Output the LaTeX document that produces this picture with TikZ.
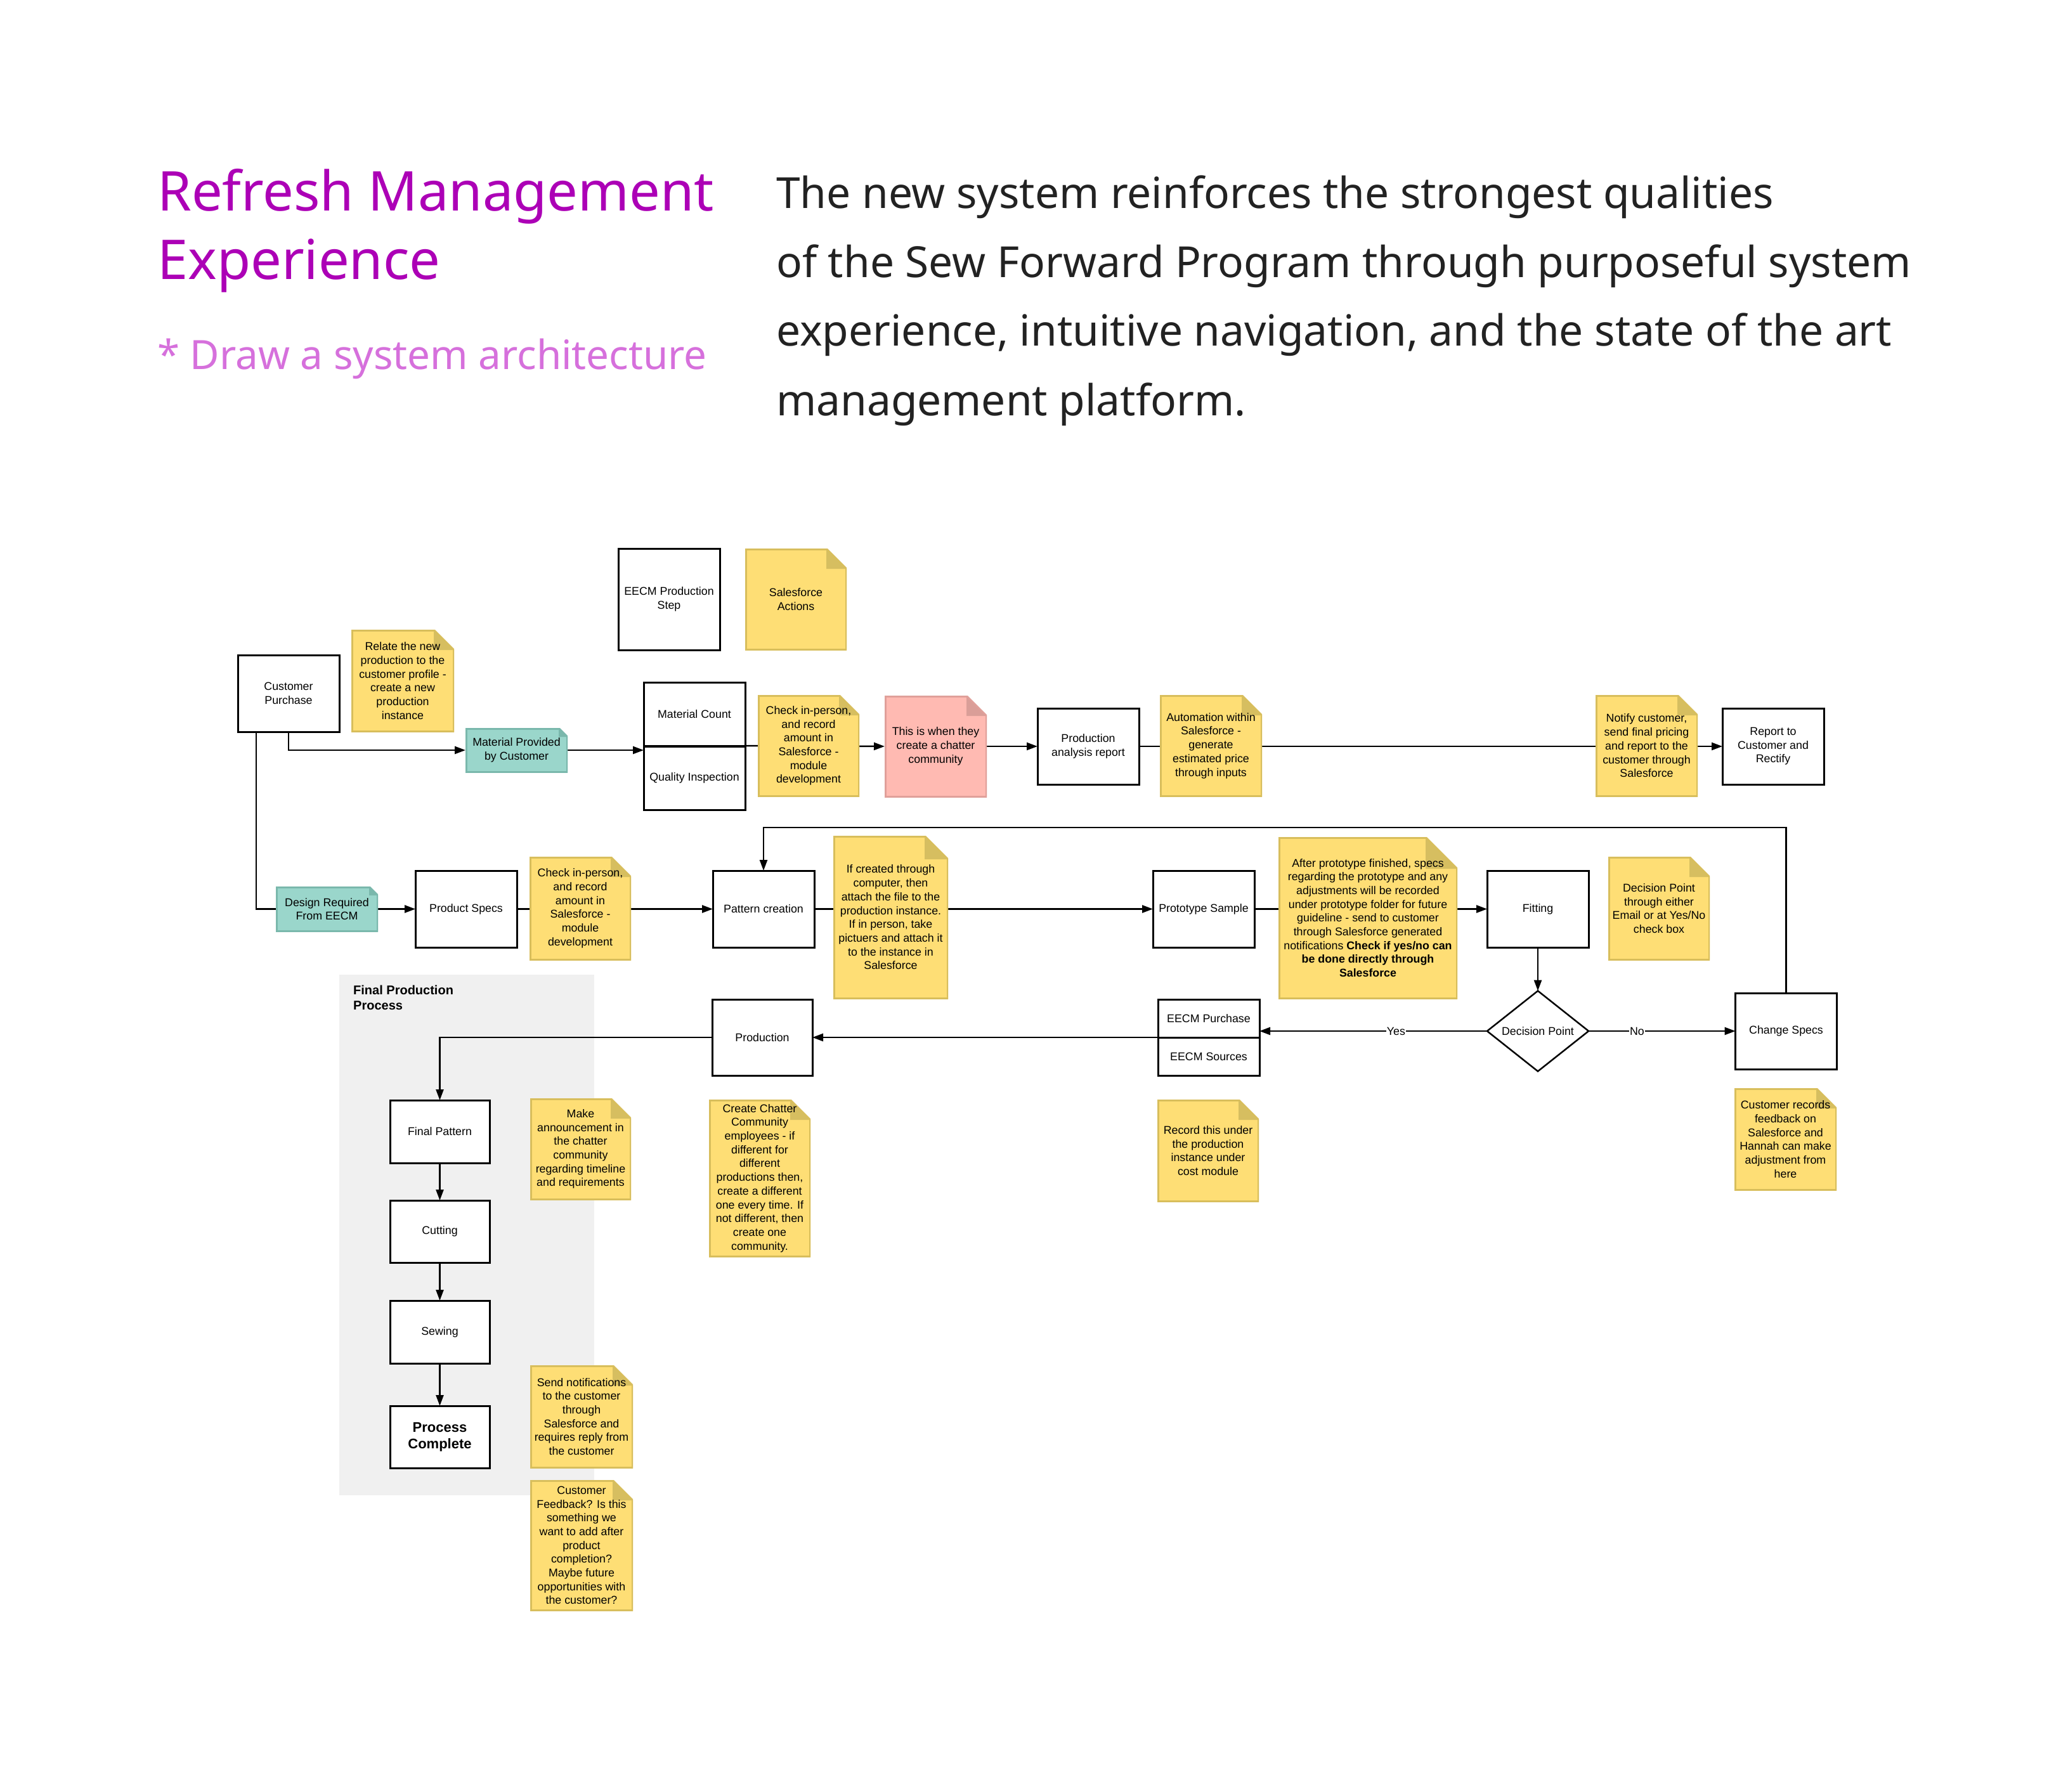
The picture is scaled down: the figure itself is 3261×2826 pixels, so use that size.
\documentclass[tikz,border=0pt]{standalone}
\usepackage{fontspec}
\setmainfont{Liberation Sans}
\newfontfamily\headfont{Noto Sans}
\usetikzlibrary{arrows.meta,shapes.geometric}
\pgfdeclarelayer{back}\pgfdeclarelayer{conn}\pgfsetlayers{back,conn,main}
\definecolor{yfill}{RGB}{254,222,117}
\definecolor{ybord}{RGB}{216,190,92}
\definecolor{yfold}{RGB}{214,190,96}
\definecolor{tfill}{RGB}{154,214,203}
\definecolor{tbord}{RGB}{122,184,172}
\definecolor{tfold}{RGB}{122,184,172}
\definecolor{pfill}{RGB}{255,186,178}
\definecolor{pbord}{RGB}{224,160,154}
\definecolor{pfold}{RGB}{218,158,152}
\definecolor{titlec}{RGB}{172,0,182}
\definecolor{subc}{RGB}{214,112,220}
\definecolor{parac}{RGB}{34,34,34}
\definecolor{grayarea}{RGB}{240,240,240}
\newcommand\dgmfont{\fontsize{17.8}{21.7}\selectfont}
\begin{document}
\begin{tikzpicture}[x=1pt,y=-1pt,
  pbox/.style n args={2}{draw=black, line width=3pt, fill=white, minimum width=#1pt, minimum height=#2pt, inner sep=2pt, outer sep=0pt, align=center, font=\dgmfont},
  sticky/.style n args={4}{minimum width=#1pt, minimum height=#2pt, inner sep=2pt, outer sep=0pt, align=center, font=\dgmfont,
    path picture={
      \fill[#4fill] (path picture bounding box.south west) -- (path picture bounding box.north west) -- ([xshift=-#3pt]path picture bounding box.north east) -- ([yshift=-#3pt]path picture bounding box.north east) -- (path picture bounding box.south east) -- cycle;
      \fill[#4fold] ([xshift=-#3pt]path picture bounding box.north east) -- ([xshift=-#3pt,yshift=-#3pt]path picture bounding box.north east) -- ([yshift=-#3pt]path picture bounding box.north east) -- cycle;
      \draw[#4bord, line width=5pt] ([xshift=-#3pt]path picture bounding box.north east) -- (path picture bounding box.north west) -- (path picture bounding box.south west) -- (path picture bounding box.south east) -- ([yshift=-#3pt]path picture bounding box.north east);
      \draw[#4bord, line width=2.5pt] ([xshift=-#3pt]path picture bounding box.north east) -- ([yshift=-#3pt]path picture bounding box.north east);
    }},
  conn/.style={draw=black, line width=2.5pt, -{Triangle[length=17pt,width=12pt]}},
  cline/.style={draw=black, line width=2.5pt},
  lbl/.style={fill=white, inner sep=1pt, font=\dgmfont},
  hd/.style={anchor=base west, inner sep=0pt}
]
% canvas
\begin{pgfonlayer}{back}
\fill[white] (0,0) rectangle (3261,2826);
\fill[grayarea] (535,1537) rectangle (937,2358);
\end{pgfonlayer}
\useasboundingbox (0,0) rectangle (3261,2826);

% header
\node[hd, font=\headfont\fontsize{86.5}{108}\selectfont, text=titlec] (t1) at (248,332) {Refresh Management};
\node[hd, font=\headfont\fontsize{86.5}{108}\selectfont, text=titlec] (t2) at (248,440) {Experience};
\node[hd, font=\headfont\fontsize{63.7}{80}\selectfont, text=subc] (t3) at (248,582) {* Draw a system architecture};
\node[hd, font=\headfont\fontsize{67.6}{108}\selectfont, text=parac] (p1) at (1224,328) {The new system reinforces the strongest qualities};
\node[hd, font=\headfont\fontsize{67.6}{108}\selectfont, text=parac] (p2) at (1224,437) {of the Sew Forward Program through purposeful system};
\node[hd, font=\headfont\fontsize{67.6}{108}\selectfont, text=parac] (p3) at (1224,545) {experience, intuitive navigation, and the state of the art};
\node[hd, font=\headfont\fontsize{67.6}{108}\selectfont, text=parac] (p4) at (1224,655) {management platform.};

% final production header
\node[hd, font=\bfseries\fontsize{20}{24}\selectfont] (fph1) at (557,1568) {Final Production};
\node[hd, font=\bfseries\fontsize{20}{24}\selectfont] (fph2) at (557,1592) {Process};

% boxes
\node[pbox={160}{160}] (eecmstep) at (1055,945) {EECM Production\\Step};
\node[pbox={160}{121}] (cp) at (455,1093.5) {Customer\\Purchase};
\node[pbox={160}{100}] (mc) at (1095,1126) {Material Count};
\node[pbox={160}{100}] (qi) at (1095,1227) {Quality Inspection};
\node[pbox={160}{120}] (pa) at (1716,1177) {Production\\analysis report};
\node[pbox={160}{120}] (rep) at (2796,1177) {Report to\\Customer and\\Rectify};
\node[pbox={160}{121}] (ps) at (735,1433.5) {Product Specs};
\node[pbox={160}{121}] (pc) at (1204,1433.5) {Pattern creation};
\node[pbox={160}{121}] (proto) at (1898,1433.5) {Prototype Sample};
\node[pbox={160}{121}] (fit) at (2425,1433.5) {Fitting};
\node[draw=black, line width=2.5pt, fill=white, shape=diamond, minimum width=160pt, minimum height=122pt, inner sep=0pt, outer sep=0pt, font=\dgmfont] (dec) at (2425,1626) {Decision Point};
\node[pbox={160}{120}] (cs) at (2816.5,1626) {Change Specs};
\node[pbox={160}{60}] (ep) at (1906,1606) {EECM Purchase};
\node[pbox={160}{60}] (es) at (1906,1666) {EECM Sources};
\node[pbox={158}{120}] (prod) at (1202,1636) {Production};
\node[pbox={157}{99}] (fp) at (693.5,1784.5) {Final Pattern};
\node[pbox={157}{98}] (cut) at (693.5,1942) {Cutting};
\node[pbox={157}{99}] (sew) at (693.5,2100.5) {Sewing};
\node[pbox={157}{98}, font=\bfseries\fontsize{22}{26}\selectfont] (pcmp) at (693.5,2266) {Process\\Complete};

% teal and pink notes (connector ends)
\node[sticky={161}{70}{14}{t}] (mat) at (814.5,1183) {Material Provided\\by Customer};
\node[sticky={161}{71}{14}{t}] (design) at (515.5,1433.5) {Design Required\\From EECM};
\node[sticky={161}{160}{32}{p}] (pink) at (1475.5,1177) {This is when they\\create a chatter\\community};

% connectors
\coordinate (loopy) at (0,1305);
\begin{pgfonlayer}{conn}
\draw[conn] (cp.south) |- (mat.west);
\draw[cline] ([xshift=-51pt]cp.south) |- (design.west);
\draw[conn] (mat.east) -- (mat.east -| qi.west);
\draw[conn] (mc.south east) -- (pink.west);
\draw[conn] (pink.east) -- (pa.west);
\draw[conn] (pa.east) -- (rep.west);
\draw[conn] (design.east) -- (ps.west);
\draw[conn] (ps.east) -- (pc.west);
\draw[conn] (pc.east) -- (proto.west);
\draw[conn] (proto.east) -- (fit.west);
\draw[conn] (fit.south) -- (dec.north);
\draw[conn] (dec.west) -- node[lbl, pos=0.4] (yeslbl) {Yes} (dec.west -| ep.east);
\draw[conn] (dec.east) -- node[lbl, pos=0.33] (nolbl) {No} (cs.west);
\draw[conn] (cs.north) -- (cs.north |- loopy) -| (pc.north);
\draw[conn] (ep.south west) -- (prod.east);
\draw[conn] (prod.west) -| (fp.north);
\draw[conn] (fp.south) -- (cut.north);
\draw[conn] (cut.south) -- (sew.north);
\draw[conn] (sew.south) -- (pcmp.north);
\end{pgfonlayer}

% yellow notes
\node[sticky={160}{160}{32}{y}] (sfa) at (1255,945) {Salesforce\\Actions};
\node[sticky={162}{161}{32}{y}] (relate) at (635,1073.5) {Relate the new\\production to the\\customer profile -\\create a new\\production\\instance};
\node[sticky={160}{160}{32}{y}] (check1) at (1275,1176) {Check in-person,\\and record\\amount in\\Salesforce -\\module\\development};
\node[sticky={161}{160}{32}{y}] (auto) at (1909.5,1176) {Automation within\\Salesforce -\\generate\\estimated price\\through inputs};
\node[sticky={161}{160}{32}{y}] (notify) at (2596.5,1176) {Notify customer,\\send final pricing\\and report to the\\customer through\\Salesforce};
\node[sticky={160}{163}{32}{y}] (check2) at (915,1432.5) {Check in-person,\\and record\\amount in\\Salesforce -\\module\\development};
\node[sticky={181}{257}{37}{y}] (ifc) at (1404.5,1446.5) {If created through\\computer, then\\attach the file to the\\production instance.\\If in person, take\\pictuers and attach it\\to the instance in\\Salesforce};
\node[sticky={282}{255}{50}{y}] (after) at (2157,1447.5) {After prototype finished, specs\\regarding the prototype and any\\adjustments will be recorded\\under prototype folder for future\\guideline - send to customer\\through Salesforce generated\\notifications \textbf{Check if yes/no can}\\\textbf{be done directly through}\\\textbf{Salesforce}};
\node[sticky={160}{163}{32}{y}] (decnote) at (2616,1432.5) {Decision Point\\through either\\Email or at Yes/No\\check box};
\node[sticky={159}{160}{32}{y}] (make) at (915.5,1812) {Make\\announcement in\\the chatter\\community\\regarding timeline\\and requirements};
\node[sticky={160}{248}{32}{y}] (chatter) at (1198,1858) {Create Chatter\\Community\\employees - if\\different for\\different\\productions then,\\create a different\\one every time. If\\not different, then\\create one\\community.};
\node[sticky={160}{161}{32}{y}] (record) at (1905,1814.5) {Record this under\\the production\\instance under\\cost module};
\node[sticky={161}{161}{32}{y}] (crec) at (2815.5,1796.5) {Customer records\\feedback on\\Salesforce and\\Hannah can make\\adjustment from\\here};
\node[sticky={162}{162}{32}{y}] (sendn) at (917,2234) {Send notifications\\to the customer\\through\\Salesforce and\\requires reply from\\the customer};
\node[sticky={162}{206}{32}{y}] (cfb) at (917,2437) {Customer\\Feedback? Is this\\something we\\want to add after\\product\\completion?\\Maybe future\\opportunities with\\the customer?};
\end{tikzpicture}
\end{document}
